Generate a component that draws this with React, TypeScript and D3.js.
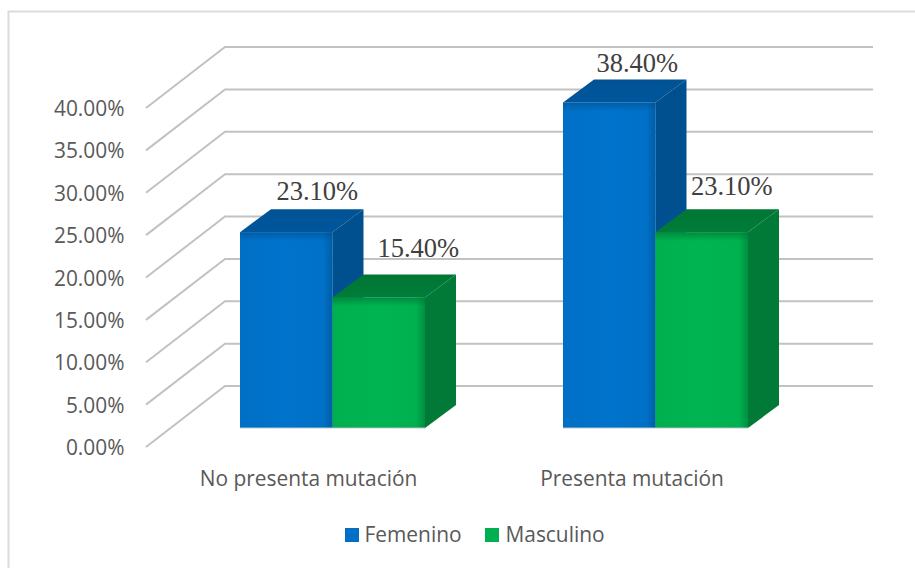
import React from "react";
import * as d3 from "d3";

const categories = ["No presenta mutación", "Presenta mutación"];
const seriesNames = ["Femenino", "Masculino"];
const femenino = [23.1, 38.4];
const masculino = [15.4, 23.1];
const yTicks = [0, 5, 10, 15, 20, 25, 30, 35, 40];

const WIDTH = 915;
const HEIGHT = 568;
const FRONT_FILL = ["#0070c6", "#00b04f"];
const TOP_FILL = ["#00569c", "#007d38"];
const SIDE_FILL = ["#00508f", "#007a36"];
const SANS = "'Open Sans', sans-serif";
const FONT_SIZE = 20.9;

// Vertical scale measured at the bars' front plane.
const y = d3.scaleLinear().domain([0, 40]).range([428, 89]);
const groupX = [240, 563];
const barW = 92.5;
const barDx = 31;
const barDy = -23;
// Offset from the front of the floor to the back wall.
const wallDx = 79;
const wallDy = -61;
const axisX = 146;
const axisY0 = 447;
const gridRight = 873;
const gridStep = (447 - 108) / 8;
const bevel = 9;
// Data labels sit above the bar's top face, nudged per bar: [dx, dy] by category then series.
const labelNudge = [
  [[31, -32], [39.5, -40]],
  [[28, -31], [30, -37]],
];

function Bar({ x, value, s }: { x: number; value: number; s: number }) {
  const top = y(value);
  const base = y(0);
  const r = x + barW;
  const path = (pts: number[][]) => d3.line()(pts as [number, number][]) + "Z";
  return (
    <g>
      <path d={path([[x, top], [x + barDx, top + barDy], [r + barDx, top + barDy], [r, top]])} fill={`url(#top${s})`} />
      <path d={path([[r, top], [r + barDx, top + barDy], [r + barDx, base + barDy], [r, base]])} fill={SIDE_FILL[s]} />
      <rect x={x} y={top} width={barW} height={base - top} fill={`url(#front${s})`} />
      {/* soft bevel where the front face meets the top and side faces */}
      <rect x={x} y={top} width={barW} height={bevel} fill={`url(#bevelTop${s})`} />
      <rect x={r - bevel} y={top} width={bevel} height={base - top} fill={`url(#bevelSide${s})`} />
      <rect x={x} y={base - 1} width={barW} height={1.5} fill="#9fb0b8" opacity={0.6} />
    </g>
  );
}

export default function App() {
  const seriesRows = [femenino, masculino];
  return (
    <svg
      width={WIDTH}
      height={HEIGHT}
      style={{ position: "absolute", left: 0, top: 0, background: "#fff" }}
      fontFamily={SANS}
    >
      <defs>
        {FRONT_FILL.map((c, s) => (
          <linearGradient key={c} id={`front${s}`} x1="0" x2="1" y1="0" y2="0">
            <stop offset="0" stopColor={c} />
            <stop offset="0.5" stopColor={d3.color(c)!.brighter(0.08).formatHex()} />
            <stop offset="1" stopColor={c} />
          </linearGradient>
        ))}
        {TOP_FILL.map((c, s) => (
          <linearGradient key={c} id={`top${s}`} x1="0" x2="0" y1="0" y2="1">
            <stop offset="0" stopColor={d3.color(c)!.darker(0.15).formatHex()} />
            <stop offset="1" stopColor={c} />
          </linearGradient>
        ))}
        {TOP_FILL.map((c, s) => (
          <linearGradient key={c} id={`bevelTop${s}`} x1="0" x2="0" y1="0" y2="1">
            <stop offset="0" stopColor={c} stopOpacity={0.75} />
            <stop offset="1" stopColor={c} stopOpacity={0} />
          </linearGradient>
        ))}
        {SIDE_FILL.map((c, s) => (
          <linearGradient key={c} id={`bevelSide${s}`} x1="0" x2="1" y1="0" y2="0">
            <stop offset="0" stopColor={c} stopOpacity={0} />
            <stop offset="1" stopColor={c} stopOpacity={0.6} />
          </linearGradient>
        ))}
      </defs>

      {/* frame: only the top and left edges fall inside the page */}
      <path d={`M${WIDTH},11.5H8.5V${HEIGHT}`} fill="none" stroke="#dcdcdc" strokeWidth={2} />

      {yTicks.map((t, i) => {
        const yFront = axisY0 - i * gridStep;
        const yBack = yFront + wallDy;
        return (
          <g key={t}>
            <polyline
              points={`${axisX},${yFront} ${axisX + wallDx},${yBack} ${gridRight},${yBack}`}
              fill="none"
              stroke="#c2c2c2"
              strokeWidth={2}
            />
            <text x={124.5} y={yFront + 8} textAnchor="end" fontSize={FONT_SIZE} fill="#595959">
              {t.toFixed(2)}%
            </text>
          </g>
        );
      })}

      {categories.map((c, ci) => (
        <g key={c}>
          {seriesRows.map((vals, s) => (
            <Bar key={s} x={groupX[ci] + s * barW} value={vals[ci]} s={s} />
          ))}
        </g>
      ))}

      {categories.map((c, ci) =>
        seriesRows.map((vals, s) => (
          <text
            key={c + s}
            x={groupX[ci] + s * barW + barW / 2 + labelNudge[ci][s][0]}
            y={y(vals[ci]) + labelNudge[ci][s][1]}
            textAnchor="middle"
            fontFamily="'Liberation Serif', serif"
            fontSize={26.5}
            fill="#404040"
          >
            {vals[ci].toFixed(2)}%
          </text>
        ))
      )}

      {categories.map((c, ci) => (
        <text key={c} x={ci === 0 ? 308.5 : 632} y={486} textAnchor="middle" fontSize={FONT_SIZE} fill="#595959">
          {c}
        </text>
      ))}

      <rect x={345} y={528} width={14} height={14} fill={FRONT_FILL[0]} />
      <text x={364.5} y={542} fontSize={FONT_SIZE} fill="#595959">{seriesNames[0]}</text>
      <rect x={485} y={528} width={14} height={14} fill={FRONT_FILL[1]} />
      <text x={505.5} y={542} fontSize={FONT_SIZE} fill="#595959">{seriesNames[1]}</text>
    </svg>
  );
}
